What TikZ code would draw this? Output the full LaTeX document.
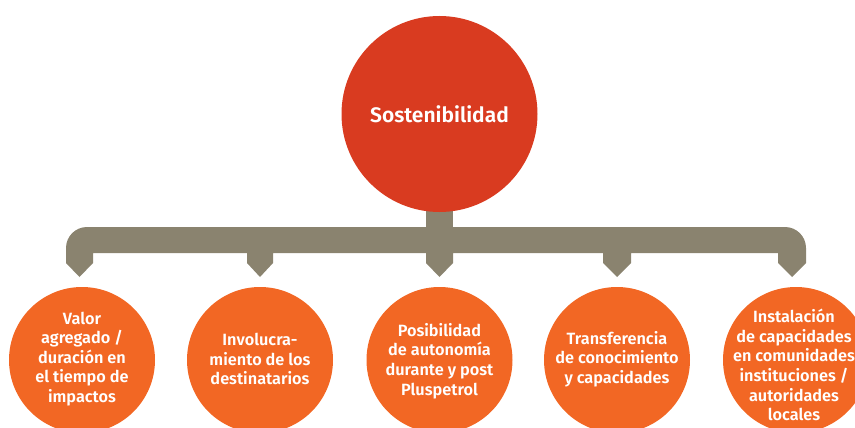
\documentclass[tikz,border=0pt]{standalone}
\usepackage{fontspec}
\setmainfont{Fira Sans}[BoldFont={Fira Sans Bold}]
\newfontfamily\semifont{Fira Sans SemiBold}
\definecolor{topred}{HTML}{D93B20}
\definecolor{leaforange}{HTML}{F26724}
\definecolor{bargray}{HTML}{8A836F}
\begin{document}
\begin{tikzpicture}[x=1pt,y=-1pt,
  topcircle/.style={circle,fill=topred,minimum size=196pt,inner sep=0pt,text=white,
    font=\fontsize{21}{25}\selectfont\semifont},
  leaf/.style={circle,fill=leaforange,minimum size=146pt,inner sep=0pt},
  leaftext/.style={text=white,align=center,inner sep=0pt,
    font=\semifont\fontsize{16.3}{19.6}\selectfont},
  bar/.style={fill=bargray,draw=none}]
\useasboundingbox (0,0) rectangle (855,428);
% stem from top circle
\fill[bargray] (426,190) rectangle (453,228);
\node[topcircle] (top) at (439.5,114) {Sostenibilidad};
% bracket
\fill[bar] (66,263) -- (66,248) arc[start angle=180,end angle=270,radius=21]
  -- (785,227) arc[start angle=270,end angle=360,radius=21]
  -- (806,263) -- (792,277) -- (778,263) -- (778,253)
  -- (631,253) -- (631,263) -- (617,277) -- (603,263) -- (603,253)
  -- (453,253) -- (453,263) -- (439.5,277) -- (426,263) -- (426,253)
  -- (273,253) -- (273,263) -- (260,277) -- (247,263) -- (247,253)
  -- (93,253) -- (93,263) -- (79.5,277) -- cycle;
\node[leaf] (a) at (82,360) {};
\node[leaf] (b) at (260,360) {};
\node[leaf] (c) at (439.5,360) {};
\node[leaf] (d) at (617,360) {};
\node[leaf] (e) at (796,360) {};
\node[leaftext] (ta) at ([yshift=1pt]a.center) {Valor\\agregado /\\duración en\\el tiempo de\\impactos};
\node[leaftext] (tb) at ([yshift=1pt]b.center) {Involucra-\\miento de los\\destinatarios};
\node[leaftext] (tc) at ([yshift=-1pt]c.center) {Posibilidad\\de autonomía\\durante y post\\Pluspetrol};
\node[leaftext] (td) at ([yshift=1pt]d.center) {Transferencia\\de conocimiento\\y capacidades};
\node[leaftext] (te) at ([xshift=-2pt,yshift=-5pt]e.center) {Instalación\\de capacidades\\en comunidades\\instituciones /\\autoridades\\locales};
\end{tikzpicture}
\end{document}
